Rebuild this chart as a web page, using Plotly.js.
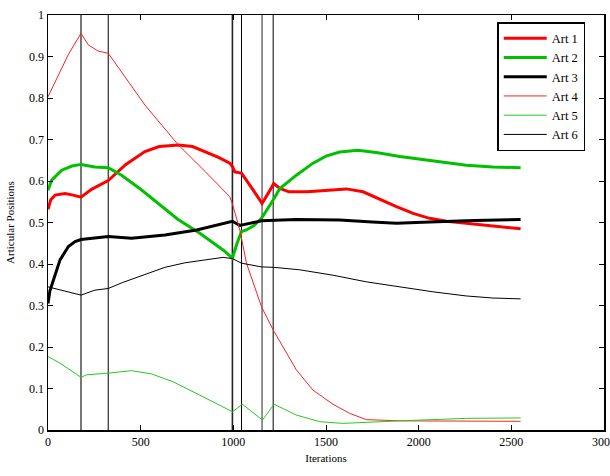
<!DOCTYPE html>
<html>
<head>
<meta charset="utf-8">
<script src="https://cdn.plot.ly/plotly-3.0.1.min.js"></script>
<style>
  html, body { margin: 0; padding: 0; background: #ffffff; }
  #chart { width: 610px; height: 476px; }
</style>
</head>
<body>
<div id="chart"></div>
<script>
// Values (iterations vs articular positions)
const art1X = [0, 15, 38, 92, 136, 178, 235, 325, 420, 523, 600, 703, 780, 846, 920, 981, 995, 1008, 1044, 1100, 1155, 1190, 1218, 1251, 1300, 1400, 1520, 1610, 1700, 1790, 1880, 1970, 2059, 2150, 2238, 2400, 2550];
const art1Y = [0.532, 0.555, 0.566, 0.570, 0.566, 0.561, 0.580, 0.601, 0.640, 0.671, 0.683, 0.687, 0.683, 0.671, 0.657, 0.643, 0.635, 0.622, 0.619, 0.583, 0.546, 0.572, 0.594, 0.582, 0.574, 0.574, 0.578, 0.581, 0.574, 0.556, 0.538, 0.522, 0.510, 0.503, 0.499, 0.490, 0.485];

const art2X = [0, 20, 74, 130, 178, 253, 325, 397, 500, 604, 700, 819, 891, 950, 995, 1020, 1044, 1070, 1110, 1152, 1215, 1251, 1340, 1430, 1500, 1574, 1673, 1780, 1898, 2077, 2257, 2400, 2550];
const art2Y = [0.578, 0.602, 0.626, 0.636, 0.640, 0.634, 0.632, 0.614, 0.580, 0.542, 0.508, 0.474, 0.450, 0.432, 0.414, 0.450, 0.478, 0.482, 0.492, 0.510, 0.554, 0.582, 0.614, 0.643, 0.660, 0.670, 0.674, 0.668, 0.659, 0.648, 0.638, 0.634, 0.632];

const art3X = [0, 10, 29, 65, 110, 146, 178, 250, 325, 451, 631, 802, 995, 1035, 1152, 1340, 1574, 1750, 1880, 2059, 2300, 2550];
const art3Y = [0.305, 0.335, 0.361, 0.410, 0.442, 0.454, 0.459, 0.463, 0.466, 0.462, 0.470, 0.482, 0.503, 0.493, 0.504, 0.507, 0.506, 0.501, 0.498, 0.501, 0.505, 0.507];

const art4X = [0, 55, 109, 178, 217, 271, 325, 523, 703, 850, 981, 995, 1035, 1071, 1110, 1152, 1215, 1280, 1340, 1430, 1538, 1628, 1718, 1900, 2200, 2550];
const art4Y = [0.803, 0.855, 0.904, 0.956, 0.928, 0.913, 0.908, 0.783, 0.687, 0.622, 0.562, 0.545, 0.482, 0.402, 0.350, 0.297, 0.241, 0.190, 0.145, 0.096, 0.062, 0.040, 0.025, 0.022, 0.021, 0.021];

const art5X = [0, 65, 178, 208, 325, 451, 560, 676, 819, 995, 1049, 1157, 1220, 1340, 1466, 1590, 1898, 2257, 2550];
const art5Y = [0.177, 0.161, 0.127, 0.133, 0.137, 0.143, 0.135, 0.116, 0.084, 0.044, 0.062, 0.024, 0.062, 0.036, 0.020, 0.016, 0.022, 0.028, 0.029];

const art6X = [0, 74, 178, 253, 325, 400, 487, 631, 740, 860, 945, 995, 1044, 1152, 1218, 1358, 1538, 1718, 1898, 2077, 2257, 2400, 2550];
const art6Y = [0.345, 0.337, 0.325, 0.337, 0.341, 0.355, 0.369, 0.392, 0.403, 0.410, 0.416, 0.413, 0.402, 0.393, 0.392, 0.386, 0.373, 0.357, 0.345, 0.333, 0.323, 0.318, 0.316];

// Iterations where the trajectory switches segments (vertical markers)
const switchIters = [178, 325, 995, 1044, 1155, 1215];
const switchColors = ['#555555', '#000000', '#222222', '#000000', '#777777', '#000000'];
const switchWidths = [1.6, 1, 1.6, 1, 1.6, 1];

const names = ['Art 1', 'Art 2', 'Art 3', 'Art 4', 'Art 5', 'Art 6'];
const colors = ['#ff0000', '#00c000', '#000000', '#ff2020', '#20cc20', '#000000'];
const widths = [3, 3, 3, 1, 1, 1];
const xs = [art1X, art2X, art3X, art4X, art5X, art6X];
const ys = [art1Y, art2Y, art3Y, art4Y, art5Y, art6Y];

const traces = [];

switchIters.forEach((it, i) => {
  traces.push({
    x: [it, it],
    y: [0, 1],
    type: 'scatter',
    mode: 'lines',
    line: { color: switchColors[i], width: switchWidths[i] },
    showlegend: false,
    hoverinfo: 'skip',
  });
});

names.forEach((name, i) => {
  traces.push({
    x: xs[i],
    y: ys[i],
    name: name,
    type: 'scatter',
    mode: 'lines',
    line: { color: colors[i], width: widths[i] },
  });
});

const serif = 'Liberation Serif';
const axisFont = { family: serif, size: 12, color: '#000000' };

Plotly.newPlot('chart', traces, {
  width: 610,
  height: 476,
  margin: { l: 48, r: 6, t: 15, b: 46 },
  paper_bgcolor: '#ffffff',
  plot_bgcolor: '#ffffff',
  font: axisFont,
  showlegend: true,
  legend: {
    x: 0.808,
    y: 0.983,
    xanchor: 'left',
    yanchor: 'top',
    bgcolor: '#ffffff',
    bordercolor: '#000000',
    borderwidth: 1.5,
    itemwidth: 43,
    font: { family: serif, size: 12.5, color: '#000000' },
  },
  xaxis: {
    range: [0, 3000],
    tickvals: [0, 500, 1000, 1500, 2000, 2500, 3000],
    ticks: 'inside',
    ticklen: 5,
    tickcolor: '#000000',
    ticklabeloverflow: 'allow',
    showline: true,
    linecolor: '#000000',
    linewidth: 1.5,
    mirror: 'ticks',
    showgrid: false,
    zeroline: false,
    tickfont: axisFont,
    title: { text: 'Iterations', font: { family: serif, size: 11 }, standoff: 6 },
  },
  yaxis: {
    range: [0, 1],
    tickvals: [0, 0.1, 0.2, 0.3, 0.4, 0.5, 0.6, 0.7, 0.8, 0.9, 1],
    ticktext: ['0', '0.1', '0.2', '0.3', '0.4', '0.5', '0.6', '0.7', '0.8', '0.9', '1'],
    ticks: 'inside',
    ticklen: 5,
    tickcolor: '#000000',
    showline: true,
    linecolor: '#000000',
    linewidth: 1.5,
    mirror: 'ticks',
    showgrid: false,
    zeroline: false,
    tickfont: axisFont,
    title: { text: 'Articular Positions', font: { family: serif, size: 11 }, standoff: 12 },
  },
}, { displayModeBar: false, staticPlot: true });
</script>
</body>
</html>
